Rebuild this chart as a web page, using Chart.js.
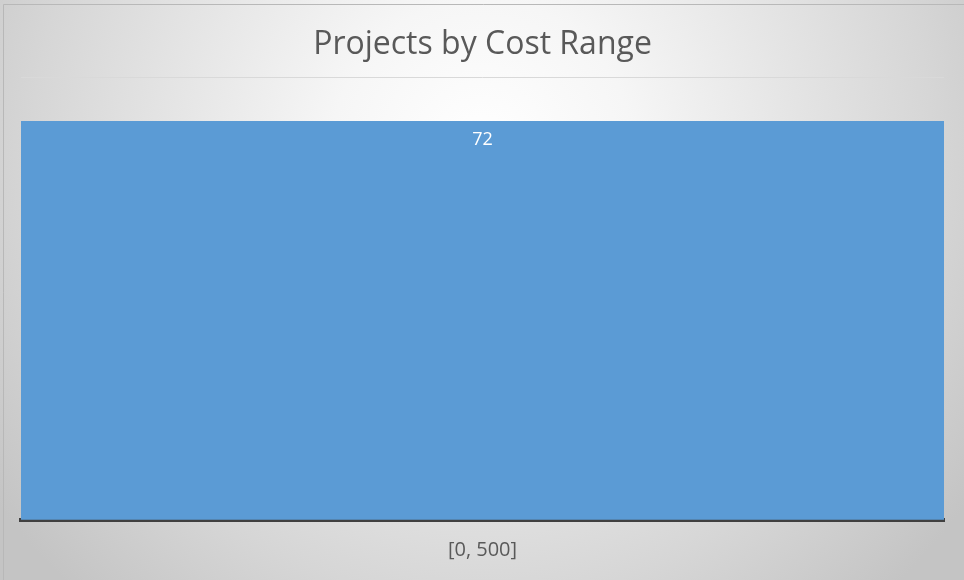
<!DOCTYPE html>
<html>
<head>
<meta charset="utf-8">
<script src="https://cdn.jsdelivr.net/npm/chart.js@4/dist/chart.umd.min.js"></script>
<style>
  html, body { margin: 0; padding: 0; background: #d0d0d0; }
  #wrap { width: 964px; height: 580px; position: relative; }
</style>
</head>
<body>
<div id="wrap"><canvas id="c" width="964" height="580"></canvas></div>
<script>
// Histogram of project counts per cost bucket
const categories = ['[0, 500]'];
const projectCounts = [72];
const yTicks = [0, 10, 20, 30, 40, 50, 60, 70, 80];

const FONT = '"Open Sans", "Liberation Sans", sans-serif';

// Soft radial backdrop plus a thin frame line
const backdrop = {
  id: 'backdrop',
  beforeDraw(chart) {
    const { ctx, width, height } = chart;
    ctx.save();
    const cx = width / 2, cy = 150;
    const g = ctx.createRadialGradient(cx, cy, 0, cx, cy, 600);
    g.addColorStop(0, '#ffffff');
    g.addColorStop(0.25, '#f6f6f6');
    g.addColorStop(0.75, '#d6d6d6');
    g.addColorStop(1, '#c4c4c4');
    ctx.fillStyle = g;
    ctx.fillRect(0, 0, width, height);
    ctx.strokeStyle = '#b8b8b8';
    ctx.lineWidth = 1;
    ctx.beginPath();
    ctx.moveTo(3.5, height);
    ctx.lineTo(3.5, 4.5);
    ctx.lineTo(width, 4.5);
    ctx.stroke();
    ctx.restore();
  }
};

// Value labels just inside the top of each bar
const valueLabels = {
  id: 'valueLabels',
  afterDatasetsDraw(chart) {
    const { ctx } = chart;
    ctx.save();
    ctx.fillStyle = '#ffffff';
    ctx.font = '18px ' + FONT;
    ctx.textAlign = 'center';
    ctx.textBaseline = 'alphabetic';
    chart.getDatasetMeta(0).data.forEach((bar, i) => {
      ctx.fillText(String(projectCounts[i]), bar.x, bar.y + 24);
    });
    ctx.restore();
  }
};

new Chart(document.getElementById('c'), {
  type: 'bar',
  data: {
    labels: categories,
    datasets: [{
      data: projectCounts,
      backgroundColor: '#5b9bd5',
      borderWidth: 0,
      barPercentage: 1,
      categoryPercentage: 1
    }]
  },
  options: {
    responsive: false,
    animation: false,
    layout: { padding: { left: 21, right: 20, top: 0, bottom: 0 } },
    plugins: {
      legend: { display: false },
      tooltip: { enabled: false },
      title: {
        display: true,
        text: 'Projects by Cost Range',
        color: '#595959',
        font: { family: FONT, size: 32, weight: 'normal', lineHeight: 1.2 },
        padding: { top: 26, bottom: 12.6 }
      }
    },
    scales: {
      x: {
        z: 1,
        grid: { display: false, drawTicks: false },
        border: { display: true, color: '#404040', width: 4 },
        ticks: { color: '#595959', font: { family: FONT, size: 20, lineHeight: 1 }, padding: 20 }
      },
      y: {
        min: 0,
        max: 80,
        afterBuildTicks(axis) { axis.ticks = yTicks.map(v => ({ value: v })); },
        grid: { color: '#d9d9d9', drawTicks: false },
        border: { display: false },
        ticks: { display: false }
      }
    }
  },
  plugins: [backdrop, valueLabels]
});
</script>
</body>
</html>
